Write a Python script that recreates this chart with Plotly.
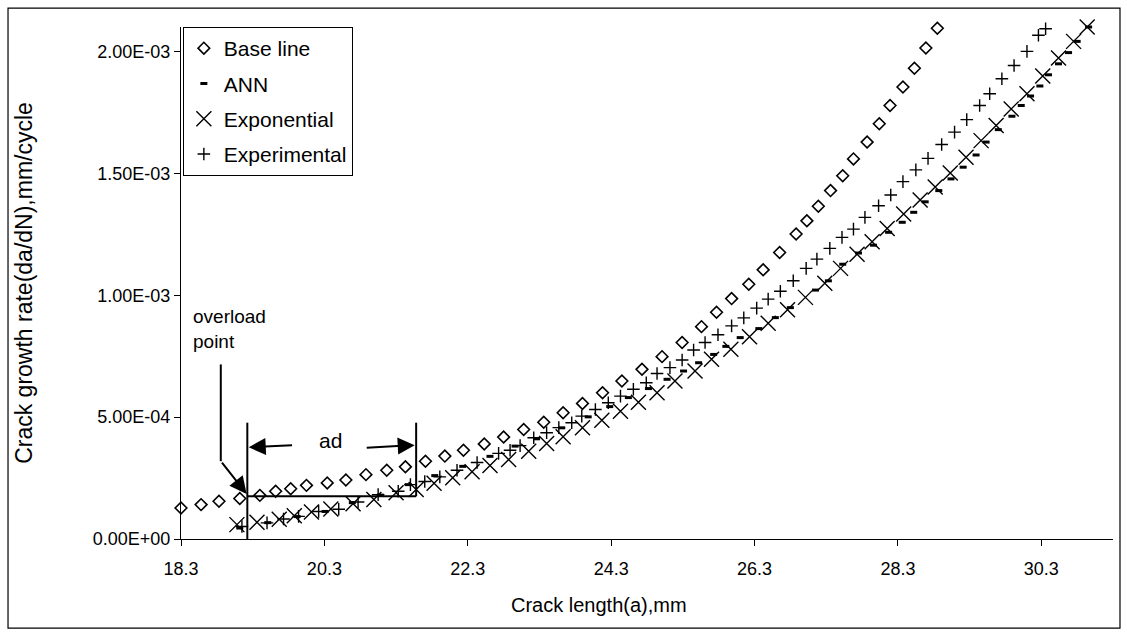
import plotly.graph_objects as go

# ---------------- data ----------------
base_x = [18.30, 18.58, 18.83, 19.12, 19.40, 19.62, 19.83, 20.05, 20.34, 20.60,
          20.88, 21.17, 21.43, 21.71, 21.98, 22.24, 22.53, 22.80, 23.08, 23.36,
          23.63, 23.90, 24.18, 24.45, 24.73, 25.01, 25.29, 25.56, 25.77, 25.98,
          26.22, 26.42, 26.65, 26.88, 27.03, 27.19, 27.36, 27.53, 27.68, 27.87,
          28.04, 28.19, 28.37, 28.53, 28.69, 28.85]
base_y = [1.27e-4, 1.41e-4, 1.55e-4, 1.66e-4, 1.79e-4, 1.96e-4, 2.06e-4, 2.20e-4, 2.30e-4, 2.42e-4,
          2.64e-4, 2.82e-4, 2.96e-4, 3.19e-4, 3.40e-4, 3.64e-4, 3.90e-4, 4.18e-4, 4.49e-4, 4.79e-4,
          5.18e-4, 5.56e-4, 6.00e-4, 6.48e-4, 6.96e-4, 7.48e-4, 8.06e-4, 8.71e-4, 9.30e-4, 9.86e-4,
          1.045e-3, 1.104e-3, 1.175e-3, 1.251e-3, 1.305e-3, 1.365e-3, 1.429e-3, 1.490e-3, 1.559e-3, 1.628e-3,
          1.703e-3, 1.778e-3, 1.854e-3, 1.931e-3, 2.014e-3, 2.095e-3]

ann_x = [19.12, 19.51, 19.92, 20.31, 20.69, 21.08, 21.47, 21.84, 22.23, 22.61,
         22.96, 23.26, 23.61, 23.98, 24.28, 24.54, 24.82, 25.08, 25.31, 25.52,
         25.73, 25.90, 26.10, 26.36, 26.59, 26.80, 27.15, 27.33, 27.53, 27.75,
         27.96, 28.17, 28.36, 28.52, 28.68, 28.87, 29.04, 29.21, 29.39, 29.53,
         29.70, 29.89, 30.02, 30.15, 30.28, 30.40, 30.54, 30.68, 30.80, 30.96]
ann_y = [4.5e-5, 6.7e-5, 9.2e-5, 1.13e-4, 1.49e-4, 1.80e-4, 2.23e-4, 2.60e-4, 2.98e-4, 3.39e-4,
         3.81e-4, 4.11e-4, 4.56e-4, 5.01e-4, 5.43e-4, 5.80e-4, 6.17e-4, 6.55e-4, 6.89e-4, 7.23e-4,
         7.57e-4, 7.90e-4, 8.26e-4, 8.63e-4, 9.08e-4, 9.49e-4, 1.021e-3, 1.059e-3, 1.127e-3, 1.173e-3,
         1.205e-3, 1.258e-3, 1.299e-3, 1.340e-3, 1.383e-3, 1.429e-3, 1.477e-3, 1.525e-3, 1.575e-3, 1.628e-3,
         1.679e-3, 1.734e-3, 1.778e-3, 1.817e-3, 1.858e-3, 1.904e-3, 1.949e-3, 1.995e-3, 2.041e-3, 2.100e-3]

exp_x = [19.08, 19.36, 19.67, 19.88, 20.12, 20.39, 20.70, 20.99, 21.30, 21.58,
         21.83, 22.09, 22.36, 22.61, 22.87, 23.15, 23.40, 23.63, 23.90, 24.17,
         24.43, 24.68, 24.94, 25.19, 25.47, 25.70, 25.97, 26.23, 26.49, 26.76,
         27.01, 27.28, 27.50, 27.73, 27.94, 28.15, 28.38, 28.61, 28.82, 29.03,
         29.25, 29.46, 29.67, 29.88, 30.10, 30.32, 30.54, 30.75, 30.94]
exp_y = [5.9e-5, 6.9e-5, 8.1e-5, 9.5e-5, 1.11e-4, 1.23e-4, 1.45e-4, 1.62e-4, 1.90e-4, 2.03e-4,
         2.29e-4, 2.51e-4, 2.76e-4, 3.01e-4, 3.26e-4, 3.60e-4, 3.92e-4, 4.19e-4, 4.56e-4, 4.87e-4,
         5.24e-4, 5.61e-4, 6.00e-4, 6.48e-4, 6.89e-4, 7.37e-4, 7.78e-4, 8.30e-4, 8.85e-4, 9.40e-4,
         9.91e-4, 1.049e-3, 1.110e-3, 1.168e-3, 1.219e-3, 1.274e-3, 1.333e-3, 1.390e-3, 1.444e-3, 1.501e-3,
         1.566e-3, 1.634e-3, 1.696e-3, 1.764e-3, 1.826e-3, 1.899e-3, 1.973e-3, 2.041e-3, 2.100e-3]

expt_x = [19.15, 19.50, 19.73, 19.94, 20.22, 20.50, 20.77, 21.05, 21.33, 21.50,
          21.70, 21.91, 22.15, 22.43, 22.73, 22.89, 23.03, 23.22, 23.40, 23.57,
          23.75, 23.89, 24.08, 24.26, 24.43, 24.61, 24.79, 24.94, 25.12, 25.29,
          25.45, 25.61, 25.79, 25.98, 26.15, 26.33, 26.49, 26.66, 26.84, 27.02,
          27.17, 27.35, 27.52, 27.68, 27.84, 28.03, 28.20, 28.37, 28.55, 28.72,
          28.91, 29.09, 29.26, 29.44, 29.58, 29.75, 29.92, 30.10, 30.26, 30.36]
expt_y = [5.1e-5, 6.6e-5, 8.2e-5, 9.3e-5, 1.13e-4, 1.22e-4, 1.52e-4, 1.82e-4, 1.96e-4, 2.23e-4,
          2.36e-4, 2.55e-4, 2.82e-4, 3.14e-4, 3.51e-4, 3.64e-4, 3.83e-4, 4.15e-4, 4.36e-4, 4.57e-4,
          4.77e-4, 5.04e-4, 5.31e-4, 5.59e-4, 5.86e-4, 6.14e-4, 6.41e-4, 6.79e-4, 7.03e-4, 7.34e-4,
          7.75e-4, 8.06e-4, 8.38e-4, 8.74e-4, 9.07e-4, 9.47e-4, 9.84e-4, 1.016e-3, 1.059e-3, 1.110e-3,
          1.148e-3, 1.192e-3, 1.237e-3, 1.271e-3, 1.319e-3, 1.367e-3, 1.411e-3, 1.466e-3, 1.514e-3, 1.561e-3,
          1.618e-3, 1.669e-3, 1.720e-3, 1.778e-3, 1.826e-3, 1.888e-3, 1.942e-3, 2.000e-3, 2.066e-3, 2.093e-3]

x_ticks = [18.3, 20.3, 22.3, 24.3, 26.3, 28.3, 30.3]
x_tick_text = ["18.3", "20.3", "22.3", "24.3", "26.3", "28.3", "30.3"]
y_ticks = [0, 5e-4, 1e-3, 1.5e-3, 2e-3]
y_tick_text = ["0.00E+00", "5.00E-04", "1.00E-03", "1.50E-03", "2.00E-03"]

# ---------------- annotation geometry (data coords) ----------------
OVL_X = 19.225        # overload point
AD_END_X = 21.58      # end of delay zone
AD_LEVEL = 1.75e-4    # rate at overload
BRACKET_TOP = 4.77e-4
PTR_X = 18.855
PTR_TOP = 7.16e-4
PTR_BEND = 3.19e-4

FONT = "Liberation Sans, Arial, sans-serif"
BLACK = "black"

fig = go.Figure()
fig.add_trace(go.Scatter(x=base_x, y=base_y, mode="markers", name="Base line",
                         legendgroup="a", cliponaxis=False,
                         marker=dict(symbol="diamond-open", size=9, color=BLACK,
                                     line=dict(width=1.6, color=BLACK))))
fig.add_trace(go.Scatter(x=ann_x, y=ann_y, mode="markers", name="ANN",
                         legendgroup="b", cliponaxis=False,
                         marker=dict(symbol="line-ew-open", size=5, color=BLACK,
                                     line=dict(width=3, color=BLACK))))
fig.add_trace(go.Scatter(x=exp_x, y=exp_y, mode="markers", name="Exponential",
                         legendgroup="c", cliponaxis=False,
                         marker=dict(symbol="x-thin-open", size=15, color=BLACK,
                                     line=dict(width=1.4, color=BLACK))))
fig.add_trace(go.Scatter(x=expt_x, y=expt_y, mode="markers", name="Experimental",
                         legendgroup="d", cliponaxis=False,
                         marker=dict(symbol="cross-thin-open", size=9, color=BLACK,
                                     line=dict(width=1.4, color=BLACK))))

line = dict(color=BLACK, width=2)
shapes = [
    # outer chart frame
    dict(type="rect", xref="paper", yref="paper", x0=-0.1856, x1=1.0075,
         y0=-0.174, y1=1.037, line=dict(color=BLACK, width=1.2)),
    # overload pointer (vertical part)
    dict(type="line", x0=PTR_X, x1=PTR_X, y0=PTR_TOP, y1=PTR_BEND, line=line),
    # delay bracket
    dict(type="line", x0=OVL_X, x1=OVL_X, y0=BRACKET_TOP, y1=0, line=line),
    dict(type="line", x0=AD_END_X, x1=AD_END_X, y0=BRACKET_TOP, y1=AD_LEVEL, line=line),
    dict(type="line", x0=OVL_X, x1=AD_END_X, y0=AD_LEVEL, y1=AD_LEVEL, line=line),
]

annotations = [
    dict(x=18.44, y=8.6e-4, text="overload<br>point", showarrow=False,
         xanchor="left", yanchor="middle", align="left",
         font=dict(family=FONT, size=19, color=BLACK)),
    dict(x=20.39, y=4.02e-4, text="ad", showarrow=False,
         font=dict(family=FONT, size=21, color=BLACK)),
    # x-axis title (sits left of the plot centre in the original)
    dict(x=0.4485, y=-0.128, xref="paper", yref="paper", text="Crack length(a),mm",
         showarrow=False, xanchor="center", yanchor="middle",
         font=dict(family=FONT, size=20, color=BLACK)),
    # pointer arrow to overload point
    dict(x=OVL_X - 0.01, y=AD_LEVEL + 0.1e-4, ax=PTR_X, ay=PTR_BEND, xref="x", yref="y",
         axref="x", ayref="y", showarrow=True, arrowhead=2, arrowsize=1.7,
         arrowwidth=2, arrowcolor=BLACK, text=""),
    # left arrow of 'ad'
    dict(x=OVL_X + 0.02, y=3.76e-4, ax=19.87, ay=3.85e-4, xref="x", yref="y",
         axref="x", ayref="y", showarrow=True, arrowhead=2, arrowsize=1.7,
         arrowwidth=2, arrowcolor=BLACK, text=""),
    # right arrow of 'ad'
    dict(x=AD_END_X - 0.02, y=3.85e-4, ax=20.87, ay=3.74e-4, xref="x", yref="y",
         axref="x", ayref="y", showarrow=True, arrowhead=2, arrowsize=1.7,
         arrowwidth=2, arrowcolor=BLACK, text=""),
]

fig.update_layout(
    width=1127, height=635,
    margin=dict(l=181, r=14, t=27, b=96),
    paper_bgcolor="white", plot_bgcolor="white",
    font=dict(family=FONT, color=BLACK, size=17),
    shapes=shapes, annotations=annotations,
    showlegend=True,
    legend=dict(x=0.002, y=1.0, xanchor="left", yanchor="top",
                bgcolor="white", bordercolor=BLACK, borderwidth=1,
                font=dict(family=FONT, size=21, color=BLACK),
                tracegroupgap=5, itemwidth=30),
    xaxis=dict(range=[18.3, 31.3], tickvals=x_ticks, ticktext=x_tick_text,
               showline=True, linecolor=BLACK, linewidth=1.2, mirror=False,
               ticks="outside", ticklen=6, tickcolor=BLACK, showgrid=False, zeroline=False,
               ticklabelstandoff=7,
               tickfont=dict(family=FONT, size=18, color=BLACK)),
    yaxis=dict(range=[0, 2.1e-3], tickvals=y_ticks, ticktext=y_tick_text,
               showline=True, linecolor=BLACK, linewidth=1.2,
               ticks="outside", ticklen=6, tickcolor=BLACK, showgrid=False, zeroline=False,
               tickfont=dict(family=FONT, size=18, color=BLACK),
               title=dict(text="Crack growth rate(da/dN),mm/cycle", standoff=53,
                          font=dict(family=FONT, size=23, color=BLACK))),
)

fig.write_html("out.html")
